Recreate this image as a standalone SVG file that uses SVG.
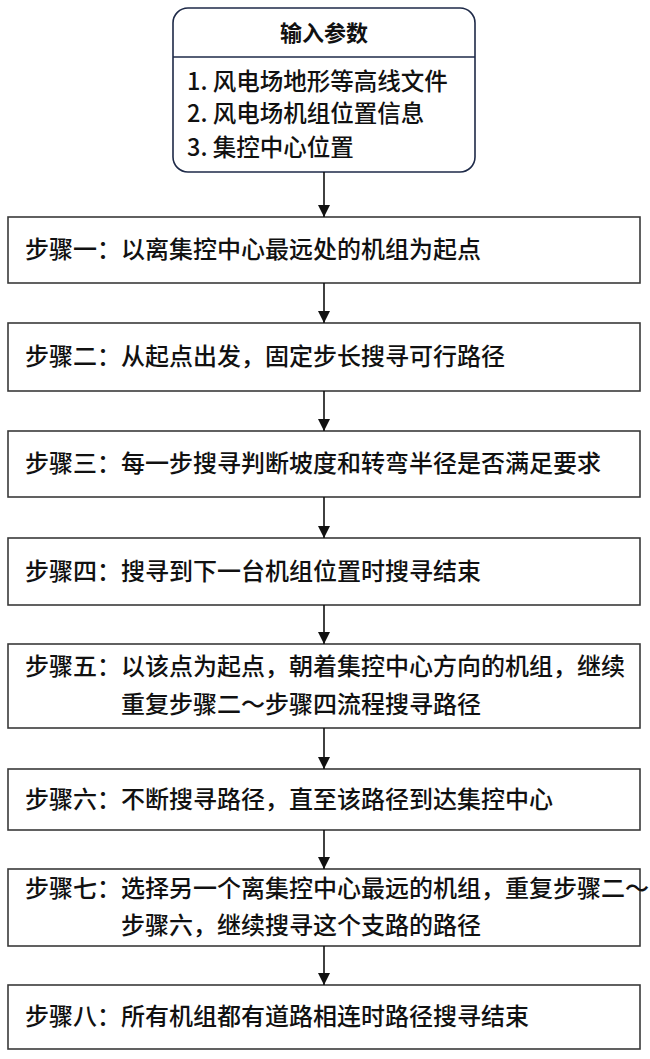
<svg xmlns="http://www.w3.org/2000/svg" width="650" height="1059" viewBox="0 0 650 1059">
<style>
.box{fill:#fff;stroke:#3a3a3a;stroke-width:1.6}
.top{fill:#fff;stroke:#1e2a48;stroke-width:1.6}
.t{font-family:"Noto Sans CJK SC","Liberation Serif",sans-serif;font-size:24px;fill:#111;font-weight:500}
.h{font-family:"Noto Sans CJK SC","Liberation Serif",sans-serif;font-size:22px;fill:#111;font-weight:bold}
.i{font-family:"Noto Sans CJK SC","Liberation Serif",sans-serif;font-size:23.5px;fill:#111;font-weight:500}
.c{stroke:#111;stroke-width:1.6;fill:none}
</style>
<defs>
<marker id="ar" viewBox="0 0 12 12" refX="12" refY="6" markerWidth="12" markerHeight="12" markerUnits="userSpaceOnUse" orient="auto">
<path d="M0,0 L12,6 L0,12 Z" fill="#111"/>
</marker>
</defs>
<g id="input">
<rect class="top" x="173" y="8" width="302" height="164" rx="15"/>
<line class="top" x1="173" y1="57" x2="475" y2="57"/>
<text class="h" x="324" y="41" text-anchor="middle">输入参数</text>
<text class="i" x="187" y="90">1. 风电场地形等高线文件</text>
<text class="i" x="187" y="122">2. 风电场机组位置信息</text>
<text class="i" x="187" y="156">3. 集控中心位置</text>
</g>
<g id="step1">
<rect class="box" x="8" y="217" width="632" height="66"/>
<text class="t" x="25" y="258">步骤一：以离集控中心最远处的机组为起点</text>
</g>
<g id="step2">
<rect class="box" x="8" y="323" width="632" height="68"/>
<text class="t" x="25" y="365">步骤二：从起点出发，固定步长搜寻可行路径</text>
</g>
<g id="step3">
<rect class="box" x="8" y="431" width="632" height="66"/>
<text class="t" x="25" y="472">步骤三：每一步搜寻判断坡度和转弯半径是否满足要求</text>
</g>
<g id="step4">
<rect class="box" x="8" y="538" width="632" height="67"/>
<text class="t" x="25" y="580">步骤四：搜寻到下一台机组位置时搜寻结束</text>
</g>
<g id="step5">
<rect class="box" x="8" y="644" width="632" height="84"/>
<text class="t" x="25" y="675">步骤五：以该点为起点，朝着集控中心方向的机组，继续</text>
<text class="t" x="121" y="713">重复步骤二～步骤四流程搜寻路径</text>
</g>
<g id="step6">
<rect class="box" x="8" y="769" width="632" height="61"/>
<text class="t" x="25" y="808">步骤六：不断搜寻路径，直至该路径到达集控中心</text>
</g>
<g id="step7">
<rect class="box" x="8" y="869" width="632" height="77"/>
<text class="t" x="25" y="897">步骤七：选择另一个离集控中心最远的机组，重复步骤二～</text>
<text class="t" x="121" y="934">步骤六，继续搜寻这个支路的路径</text>
</g>
<g id="step8">
<rect class="box" x="8" y="985" width="632" height="64"/>
<text class="t" x="25" y="1025">步骤八：所有机组都有道路相连时路径搜寻结束</text>
</g>
<g id="connectors">
<line class="c" x1="324" y1="172" x2="324" y2="217" marker-end="url(#ar)"/>
<line class="c" x1="324" y1="283" x2="324" y2="323" marker-end="url(#ar)"/>
<line class="c" x1="324" y1="391" x2="324" y2="431" marker-end="url(#ar)"/>
<line class="c" x1="324" y1="497" x2="324" y2="538" marker-end="url(#ar)"/>
<line class="c" x1="324" y1="605" x2="324" y2="644" marker-end="url(#ar)"/>
<line class="c" x1="324" y1="728" x2="324" y2="769" marker-end="url(#ar)"/>
<line class="c" x1="324" y1="830" x2="324" y2="869" marker-end="url(#ar)"/>
<line class="c" x1="324" y1="946" x2="324" y2="985" marker-end="url(#ar)"/>
</g>
</svg>
